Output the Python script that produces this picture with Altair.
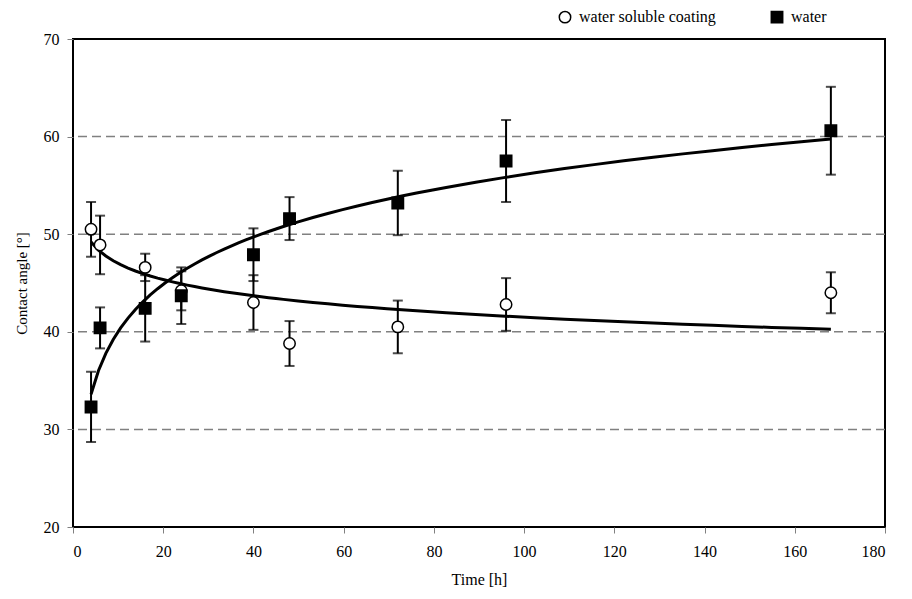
import altair as alt
import pandas as pd

series_names = ["water soluble coating", "water"]
times = [4, 6, 16, 24, 40, 48, 72, 96, 168]
coating = [50.5, 48.9, 46.6, 44.2, 43.0, 38.8, 40.5, 42.8, 44.0]
coating_err = [2.8, 3.0, 1.4, 2.0, 2.8, 2.3, 2.7, 2.7, 2.1]
water = [32.3, 40.4, 42.4, 43.7, 47.9, 51.6, 53.2, 57.5, 60.6]
water_err = [3.6, 2.1, 3.4, 2.9, 2.7, 2.2, 3.3, 4.2, 4.5]
grid_values = [30, 40, 50, 60]
x_ticks = [0, 20, 40, 60, 80, 100, 120, 140, 160, 180]
y_ticks = [20, 30, 40, 50, 60, 70]

rows = []
for name, vals, errs in [(series_names[0], coating, coating_err), (series_names[1], water, water_err)]:
    for t, v, e in zip(times, vals, errs):
        rows.append({"series": name, "time": t, "angle": v, "low": v - e, "high": v + e})
df = pd.DataFrame(rows)
grid_df = pd.DataFrame({"angle": grid_values})

FONT = "Liberation Serif"
W, H = 812, 488

xscale = alt.Scale(domain=[0, 180], nice=False)
yscale = alt.Scale(domain=[20, 70], nice=False)
xaxis = alt.Axis(values=x_ticks, title="Time [h]", grid=False, domain=False,
                 tickColor="#808080", tickSize=6, labelPadding=10, titlePadding=12,
                 labelFont=FONT, labelFontSize=16, labelColor="black",
                 titleFont=FONT, titleFontSize=16, titleFontWeight="normal", titleColor="black")
yaxis = alt.Axis(values=y_ticks, title="Contact angle [°]", grid=False, domain=False,
                 tickColor="#808080", tickSize=6, labelPadding=8, titlePadding=14,
                 labelFont=FONT, labelFontSize=16, labelColor="black",
                 titleFont=FONT, titleFontSize=15, titleFontWeight="normal", titleColor="black")

base = alt.Chart(df)

grid = alt.Chart(grid_df).mark_rule(color="#808080", strokeWidth=1.5, strokeDash=[9, 5]).encode(
    y=alt.Y("angle:Q", scale=yscale, axis=yaxis)
)

err = base.mark_rule(color="black", strokeWidth=2).encode(
    x=alt.X("time:Q", scale=xscale, axis=xaxis),
    y=alt.Y("low:Q", scale=yscale, axis=yaxis),
    y2="high:Q",
)
cap_lo = base.mark_tick(color="black", orient="horizontal", size=10, thickness=2).encode(
    x=alt.X("time:Q", scale=xscale), y=alt.Y("low:Q", scale=yscale)
)
cap_hi = base.mark_tick(color="black", orient="horizontal", size=10, thickness=2).encode(
    x=alt.X("time:Q", scale=xscale), y=alt.Y("high:Q", scale=yscale)
)

fit = base.transform_regression("time", "angle", method="log", groupby=["series"]).mark_line(
    color="black", strokeWidth=3
).encode(
    x=alt.X("time:Q", scale=xscale), y=alt.Y("angle:Q", scale=yscale), detail="series:N"
)

legend = alt.Legend(title=None, orient="none", legendX=484, legendY=-30, direction="horizontal",
                    labelFont=FONT, labelFontSize=16, labelColor="black",
                    symbolStrokeWidth=1.5, symbolSize=130, columnPadding=52, labelOffset=6)

pts = base.mark_point(filled=True, strokeWidth=1.5, size=130, opacity=1).encode(
    x=alt.X("time:Q", scale=xscale),
    y=alt.Y("angle:Q", scale=yscale),
    shape=alt.Shape("series:N", sort=series_names,
                    scale=alt.Scale(domain=series_names, range=["circle", "square"]), legend=legend),
    fill=alt.Fill("series:N", sort=series_names,
                  scale=alt.Scale(domain=series_names, range=["white", "black"]), legend=legend),
    stroke=alt.Stroke("series:N", sort=series_names,
                      scale=alt.Scale(domain=series_names, range=["black", "black"]), legend=legend),
)

chart = alt.layer(grid, err, cap_lo, cap_hi, fit, pts).properties(
    width=W, height=H,
    background="white",
    autosize=alt.AutoSizeParams(type="none"),
    padding={"left": 65, "top": 31, "right": 10, "bottom": 60},
).configure_view(stroke="black", strokeWidth=2)

chart.save("out.html", embed_options={"renderer": "svg", "actions": False})
